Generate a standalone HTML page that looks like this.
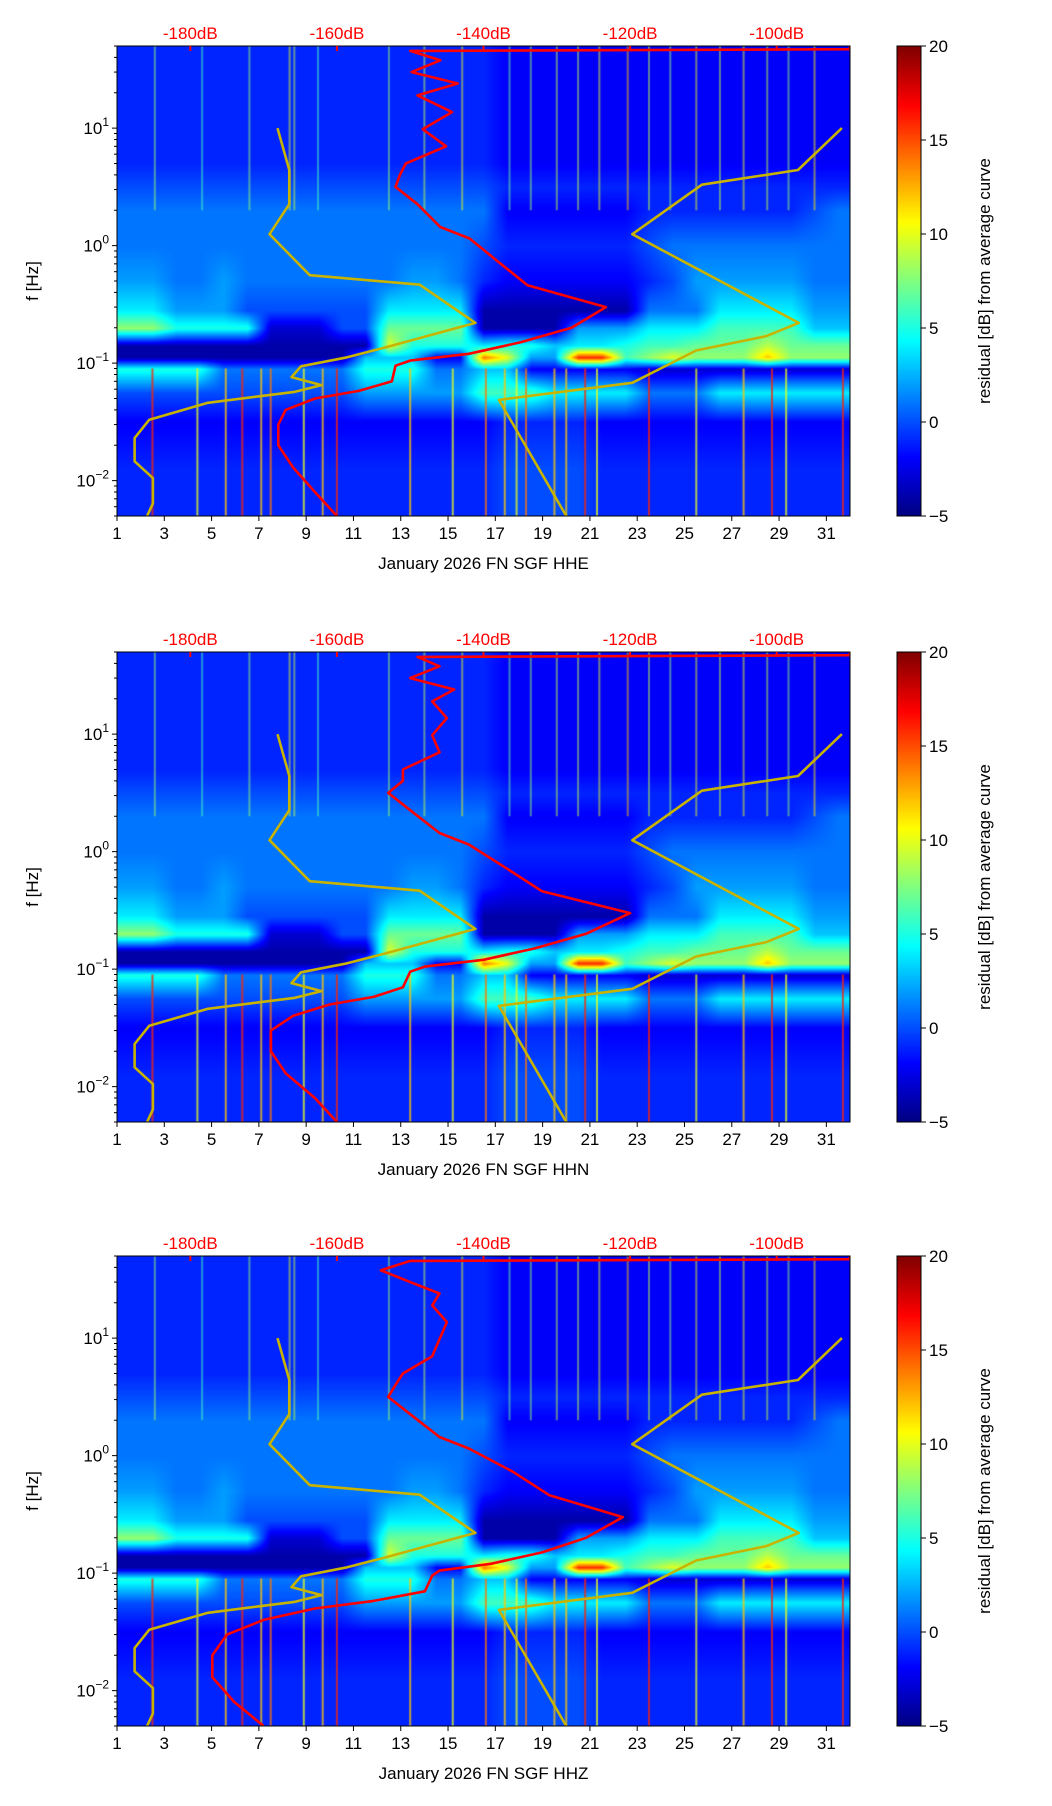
<!DOCTYPE html>
<html><head><meta charset="utf-8"><style>
html,body{margin:0;padding:0;background:#fff;width:1052px;height:1806px;overflow:hidden;font-family:"Liberation Sans",sans-serif;}
#wrap{position:relative;width:1052px;height:1806px;}
canvas{position:absolute;}
svg{position:absolute;left:0;top:0;}
</style></head><body>
<div id="wrap">
<canvas id="c0"></canvas>
<canvas id="c1"></canvas>
<canvas id="c2"></canvas>
<canvas id="cb0"></canvas>
<canvas id="cb1"></canvas>
<canvas id="cb2"></canvas>
<svg id="ov" width="1052" height="1806"></svg>
</div>
<script>
// ---- data ----
const channels = ["HHE","HHN","HHZ"];
const dayTicks = [1,3,5,7,9,11,13,15,17,19,21,23,25,27,29,31];
const dbTicks = [-180,-160,-140,-120,-100];
const cbTicks = [20,15,10,5,0,-5];
const yTickExp = [-2,-1,0,1];
// row centres in log10(f)
const rowLogF = [1.6,1.3,1.0,0.7,0.5,0.3,0.0,-0.3,-0.55,-0.7,-0.85,-0.95,-1.05,-1.25,-1.5,-1.9,-2.3];
// residual dB, rows x days 1..31
const resid = [
[-1,-1,-1,-1,-1,-1,-1,-1,-1,-1,-1,-1,-1,-1,-1,-1,-2,-2,-2,-2,-2,-2,-2,-2,-2,-2,-2,-2,-2,-2,-2],
[-1,-1,-1,-1,-1,-1,-1,-1,-1,-1,-1,-1,-1,-1,-1,-1,-2,-2,-2,-2,-2,-2,-2,-2,-2,-2,-2,-2,-2,-2,-2],
[-1,-1,-1,-1,-1,-1,-1,-1,-1,-1,-1,-1,-1,-1,-1,-1,-2,-2,-2,-2,-2,-2,-2,-2,-2,-2,-2,-2,-2,-2,-2],
[-1,-1,-1,-1,-1,-1,-1,-1,-1,-1,-1,-1,-1,-1,-1,-1,-2,-2,-2,-2,-2,-2,-2,-2,-2,-2,-2,-2,-2,-2,-2],
[0,0,0,0,0,0,0,0,0,0,0,0,0,0,0,0,-1,-1,-1,-1,-1,-1,-1,-1,-1,-1,-1,-1,-1,-1,-1],
[1,1,1,1,1,1,1,1,1,1,1,1,1,1,1,1,-2,-2,-2,-2,-2,-2,-1,-1,-1,-1,-1,-1,-1,0,1],
[1,1,1,1,1,1,1,1,1,1,1,1,1,1,1,0,-1,-1,-1,-1,-1,-1,0,1,1,1,1,1,1,1,1],
[2,2,1,1,2,1,1,1,1,1,1,1,2,2,1,-1,-2,-2,-2,-2,-2,-2,-1,0,2,2,2,2,2,1,1],
[4,4,2,2,2,0,0,0,0,0,0,4,4,4,4,-4,-4,-4,-4,-4,-4,-4,1,1,1,4,4,4,4,2,2],
[8,8,5,5,5,5,-3,-3,-3,0,0,7,7,7,7,-4,-4,-4,-4,2,2,2,4,4,4,6,6,6,6,3,3],
[-4,-4,-4,-4,-4,-4,-4,-4,-4,-4,-4,10,5,5,5,4,5,5,3,4,4,5,6,6,7,7,7,9,7,7,7],
[-4,-4,-4,-4,-4,-4,-4,-4,-4,-4,3,3,3,-2,-2,14,10,2,2,16,16,6,8,10,8,8,8,12,8,8,8],
[5,5,5,5,1,1,1,1,1,1,5,5,5,1,1,3,3,-2,-2,-2,-2,-2,-3,-3,-3,-3,-3,-3,-3,-3,-3],
[0,0,0,0,0,0,0,0,0,0,2,2,2,2,2,6,6,6,4,4,4,4,1,1,1,4,4,4,4,4,4],
[-2,-2,-2,-2,-2,-2,-2,-2,-2,-2,-2,-2,-2,-2,-2,-2,-1,-1,-1,-1,-2,-2,-2,-2,-2,-2,-2,-2,-2,-2,-2],
[-1,-1,-1,-1,-1,-1,-1,-1,-1,-1,-1,-1,-1,-1,-1,-1,0,0,0,0,-1,-1,-1,-1,-1,-1,-1,-1,-1,-1,-1],
[-1,-1,-1,-1,-1,-1,-1,-1,-1,-1,-1,-1,-1,-1,-1,-1,0,0,0,0,-1,-1,-1,-1,-1,-1,-1,-1,-1,-1,-1]
];
const hiStreakDays = [2.6,4.6,6.6,8.3,8.5,9.5,12.5,14,15.6,17.6,18.5,19.6,20.5,21.4,22.6,23.5,24.4,25.5,26.5,27.5,28.5,29.4,30.5];
const hiStreakVals = [8,6,8,10,9,6,8,9,10,7,8,9,9,10,12,9,8,10,9,10,9,8,11];
const loStreakDays = [2.5,4.4,5.6,6.3,7.1,7.5,8.9,9.7,10.3,13.4,15.2,16.6,17.4,17.9,18.3,19.5,20.0,20.8,21.3,23.5,25.5,27.5,28.7,29.3,31.7];
const loStreakVals = [16,10,12,16,12,14,10,12,16,12,10,14,12,10,14,12,12,16,10,16,10,12,16,10,16];
// PSD curves: freq (Hz), dB
const nlnmF = [10,4.4,2.25,1.25,0.56,0.465,0.22,0.134,0.112,0.094,0.076,0.065,0.057,0.046,0.033,0.023,0.0146,0.0105,0.0064,0.005];
const nlnmDb = [-168.1,-166.5,-166.5,-169.2,-163.7,-148.7,-141.1,-153.8,-158.6,-164.9,-166.2,-162.1,-165.7,-177.6,-185.6,-187.6,-187.6,-185.1,-185.1,-185.9];
const nhnmF = [10,4.4,3.3,1.25,0.22,0.17,0.128,0.068,0.0486,0.005];
const nhnmDb = [-91.1,-97.1,-110.2,-119.7,-97,-101.4,-111,-119.7,-137.9,-128.7];
const psdF = [50,47,45.4,37.8,30,24,19,13.7,9.8,7,5,4,3.16,2.25,1.44,1.15,0.73,0.46,0.3,0.2,0.15,0.12,0.105,0.095,0.07,0.058,0.05,0.04,0.03,0.02,0.013,0.008,0.005];
const psdHHE = [-90,-90,-150,-145.9,-149.8,-143.5,-149,-144.3,-148.3,-145.1,-150.6,-151.4,-152,-149,-145.9,-141.9,-138,-134,-123.3,-128,-135,-142,-150,-152,-152.5,-157,-163,-167,-168,-168,-166,-163,-160];
const psdHHN = [-90,-90,-149,-146,-150,-144,-147,-145,-147,-146,-151,-151,-153,-150,-146,-142,-137,-132,-120,-126,-133,-140,-148,-150,-151,-155,-161,-166,-169,-169,-167,-163,-160];
const psdHHZ = [-90,-90,-150,-154,-150,-146,-147,-145,-146,-147,-151,-152,-153,-150,-146,-142,-136,-131,-121,-126,-132,-139,-146,-147,-148,-155,-163,-170,-175,-177,-177,-174,-170];
const psdAll = [psdHHE, psdHHN, psdHHZ];

// ---- layout ----
const L=117, R=850, W=R-L, H=470;
const tops=[46,652,1256];
const CBX=897, CBW=24;
const fMin=0.005, fMax=50, vMin=-5, vMax=20;
const lfMax=Math.log10(fMax), lfMin=Math.log10(fMin);
const xDay=d=>L+(d-1)/31*W;
const yF=(f,t)=>t+(lfMax-Math.log10(f))/(lfMax-lfMin)*H;
const xDb=db=>L+(db+190)/100*W;
function jet(v){let t=(v-vMin)/(vMax-vMin);t=Math.max(0,Math.min(1,t));
 const c=x=>Math.round(255*Math.max(0,Math.min(1,x)));
 return [c(1.5-Math.abs(4*t-3)),c(1.5-Math.abs(4*t-2)),c(1.5-Math.abs(4*t-1))];}
function sampleGrid(day,lf){
 let cd=day-1.5; cd=Math.max(0,Math.min(30,cd)); const i0=Math.floor(cd),i1=Math.min(30,i0+1),fx=cd-i0;
 let r=0; while(r<rowLogF.length-2 && lf<rowLogF[r+1]) r++;
 let fy=(rowLogF[r]-lf)/(rowLogF[r]-rowLogF[r+1]); fy=Math.max(0,Math.min(1,fy));
 const a=resid[r][i0]*(1-fx)+resid[r][i1]*fx, b=resid[r+1][i0]*(1-fx)+resid[r+1][i1]*fx;
 return a*(1-fy)+b*fy;}
for(let p=0;p<3;p++){
 const cv=document.getElementById('c'+p); cv.width=W; cv.height=H; cv.style.left=L+'px'; cv.style.top=tops[p]+'px';
 const ctx=cv.getContext('2d'); const img=ctx.createImageData(W,H);
 for(let y=0;y<H;y++){const lf=lfMax-(y/H)*(lfMax-lfMin);
  for(let x=0;x<W;x++){const d=1+x/W*31; const c=jet(sampleGrid(d,lf)); const k=(y*W+x)*4;
   img.data[k]=c[0];img.data[k+1]=c[1];img.data[k+2]=c[2];img.data[k+3]=255;}}
 ctx.putImageData(img,0,0);
 hiStreakDays.forEach((d,i)=>{const c=jet(hiStreakVals[i]);ctx.fillStyle=`rgba(${c[0]},${c[1]},${c[2]},0.5)`;ctx.fillRect(xDay(d)-L-1,0,2,yF(2,0));});
 loStreakDays.forEach((d,i)=>{const c=jet(loStreakVals[i]);ctx.fillStyle=`rgba(${c[0]},${c[1]},${c[2]},0.75)`;ctx.fillRect(xDay(d)-L-1,yF(0.09,0),2,H);});
 const cb=document.getElementById('cb'+p); cb.width=CBW; cb.height=H; cb.style.left=CBX+'px'; cb.style.top=tops[p]+'px';
 const cc=cb.getContext('2d'); for(let y=0;y<H;y++){const c=jet(vMax-(y/H)*(vMax-vMin)); cc.fillStyle=`rgb(${c[0]},${c[1]},${c[2]})`; cc.fillRect(0,y,CBW,1);}
}
// ---- overlay ----
const NS='http://www.w3.org/2000/svg', ov=document.getElementById('ov');
function mk(tag,attrs,parent){const e=document.createElementNS(NS,tag);for(const k in attrs)e.setAttribute(k,attrs[k]);(parent||ov).appendChild(e);return e;}
function txt(x,y,s,attrs,parent){const e=mk('text',Object.assign({x:x,y:y,'font-size':17,'font-family':'Liberation Sans, sans-serif'},attrs||{}),parent);e.textContent=s;return e;}
for(let p=0;p<3;p++){
 const t=tops[p]; const g=mk('g',{});
 
 
 const clipId='clip'+p; const cp=mk('clipPath',{id:clipId},g); mk('rect',{x:L,y:t,width:W,height:H},cp);
 function poly(F,D,color,name){let pts=F.map((f,i)=>xDb(D[i]).toFixed(1)+','+yF(f,t).toFixed(1)).join(' ');
  const e=mk('polyline',{points:pts,fill:'none',stroke:color,'stroke-width':2.6,'clip-path':`url(#${clipId})`,'stroke-linejoin':'round'},g);
   }
 poly(nlnmF,nlnmDb,'#c8b400','nlnm-curve');
 poly(nhnmF,nhnmDb,'#c8b400','nhnm-curve');
 poly(psdF,psdAll[p],'#ff0000','psd-curve');
 const fr=mk('rect',{x:L,y:t,width:W,height:H,fill:'none',stroke:'#000','stroke-width':1},g);
  
 dayTicks.forEach(d=>{const x=xDay(d); mk('line',{x1:x,x2:x,y1:t+H,y2:t+H+5,stroke:'#000'},g);
  const e=txt(x,t+H+23,String(d),{'text-anchor':'middle'},g);  });
 dbTicks.forEach(db=>{const x=xDb(db); mk('line',{x1:x,x2:x,y1:t,y2:t+5,stroke:'#f00','stroke-width':2},g);
  const e=txt(x,t-7,db+'dB',{'text-anchor':'middle',fill:'#f00'},g);  });
 for(let ex=-3;ex<=1;ex++)for(let m=1;m<10;m++){const f=m*Math.pow(10,ex); if(f<fMin||f>fMax)continue; const y=yF(f,t);
  mk('line',{x1:L-(m===1?5:3),x2:L,y1:y,y2:y,stroke:'#000'},g);}
 yTickExp.forEach(ex=>{const y=yF(Math.pow(10,ex),t); const e=txt(L-8,y+6,'10',{'text-anchor':'end'},g);
  const s=mk('tspan',{dy:-8,'font-size':12},e); s.textContent=ex<0?'\u2212'+(-ex):String(ex);
   });
 const yl=txt(38,t+H/2,'f [Hz]',{'text-anchor':'middle',transform:`rotate(-90 38 ${t+H/2})`},g);
  
 const xl=txt(L+W/2,t+H+53,'January 2026 FN SGF  '+channels[p],{'text-anchor':'middle'},g);
  
 mk('rect',{x:CBX,y:t,width:CBW,height:H,fill:'none',stroke:'#000'},g);
 cbTicks.forEach(v=>{const y=t+(vMax-v)/(vMax-vMin)*H; mk('line',{x1:CBX+CBW,x2:CBX+CBW+5,y1:y,y2:y,stroke:'#000'},g);
  const e=txt(CBX+CBW+8,y+6,v<0?'\u2212'+(-v):String(v),{},g);  });
 const cl=txt(990,t+H/2,'residual [dB] from average curve',{'text-anchor':'middle',transform:`rotate(-90 990 ${t+H/2})`},g);
  
}
</script>
</body></html>
